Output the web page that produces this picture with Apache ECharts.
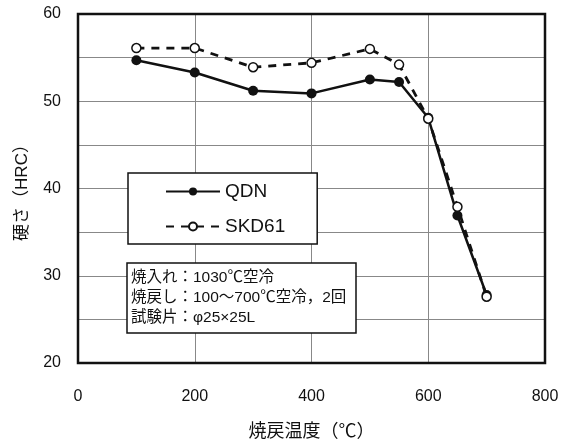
<!DOCTYPE html>
<html>
<head>
<meta charset="utf-8">
<script src="https://cdn.jsdelivr.net/npm/echarts@6/dist/echarts.min.js"></script>
<style>
  html, body { margin: 0; padding: 0; background: #fff; }
</style>
</head>
<body>
<div id="chart" style="width: 566px; height: 446px"></div>
<script>
// tempering temperature (°C)
const temps = [100, 200, 300, 400, 500, 550, 600, 650, 700]
// hardness (HRC)
const qdn = [54.7, 53.3, 51.2, 50.9, 52.5, 52.2, 48.1, 36.9, 27.8]
const skd61 = [56.1, 56.1, 53.9, 54.4, 56.0, 54.2, 48.0, 37.9, 27.6]
const seriesNames = ['QDN', 'SKD61']
const noteLines = ['焼入れ：1030℃空冷', '焼戻し：100～700℃空冷，2回', '試験片：φ25×25L']

const font = "'Liberation Sans', 'Noto Sans CJK JP', sans-serif"
const pairs = (xs, ys) => xs.map((x, i) => [x, ys[i]])

const myChart = echarts.init(document.getElementById('chart'))
const option = {
  animation: false,
  backgroundColor: '#fff',
  textStyle: { fontFamily: font, color: '#111' },
  title: {
    text: noteLines.join('\n'),
    left: 127,
    top: 263,
    padding: [5, 10, 5, 4],
    backgroundColor: '#fff',
    borderColor: '#111',
    borderWidth: 1.5,
    textStyle: {
      fontFamily: font,
      fontSize: 15.5,
      fontWeight: 'normal',
      lineHeight: 20,
      color: '#111'
    }
  },
  legend: {
    data: seriesNames,
    orient: 'vertical',
    left: 128,
    top: 173,
    padding: [9, 32, 8, 37],
    itemGap: 16,
    itemWidth: 54,
    itemHeight: 10,
    backgroundColor: '#fff',
    borderColor: '#111',
    borderWidth: 1.5,
    textStyle: { fontFamily: font, fontSize: 19, color: '#111' }
  },
  grid: {
    left: 78,
    top: 14,
    right: 21,
    bottom: 83,
    show: true,
    borderColor: '#111',
    borderWidth: 2.5,
    z: 3
  },
  xAxis: {
    type: 'value',
    min: 0,
    max: 800,
    interval: 200,
    name: '焼戻温度（℃）',
    nameLocation: 'middle',
    nameGap: 60,
    nameTextStyle: { fontFamily: font, fontSize: 18, color: '#111' },
    axisLine: { show: false },
    axisTick: { show: false },
    axisLabel: { fontFamily: font, fontSize: 16, color: '#111', margin: 26 },
    splitLine: { lineStyle: { color: '#888', width: 1 } }
  },
  yAxis: {
    type: 'value',
    min: 20,
    max: 60,
    interval: 5,
    name: '硬さ（HRC）',
    nameLocation: 'middle',
    nameGap: 47,
    nameTextStyle: { fontFamily: font, fontSize: 17, color: '#111' },
    axisLine: { show: false },
    axisTick: { show: false },
    axisLabel: {
      fontFamily: font,
      fontSize: 16,
      color: '#111',
      margin: 17,
      formatter: function (v) { return v % 10 === 0 ? v : '' }
    },
    splitLine: { lineStyle: { color: '#888', width: 1 } }
  },
  series: [
    {
      name: seriesNames[0],
      type: 'line',
      data: pairs(temps, qdn),
      symbol: 'circle',
      symbolSize: 10,
      lineStyle: { color: '#111', width: 2.5 },
      itemStyle: { color: '#111' },
      z: 4
    },
    {
      name: seriesNames[1],
      type: 'line',
      data: pairs(temps, skd61),
      symbol: 'circle',
      symbolSize: 9,
      lineStyle: { color: '#111', width: 2.8, type: [8, 7] },
      itemStyle: { color: '#fff', borderColor: '#111', borderWidth: 1.5 },
      z: 5
    }
  ]
}
myChart.setOption(option)
</script>
</body>
</html>
